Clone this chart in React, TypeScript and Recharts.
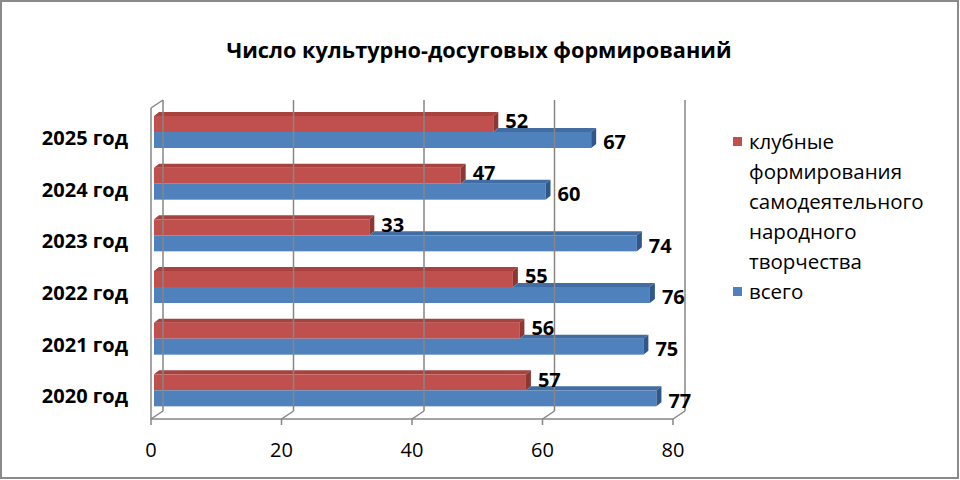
import { Bar, BarChart, LabelList, XAxis, YAxis } from "recharts";

// Chart values, top row first (as drawn)
const years = ["2025 год", "2024 год", "2023 год", "2022 год", "2021 год", "2020 год"];
const clubValues = [52, 47, 33, 55, 56, 57];
const totalValues = [67, 60, 74, 76, 75, 77];
const xTicks = [0, 20, 40, 60, 80];

const title = "Число культурно-досуговых формирований";
const clubName = "клубные формирования самодеятельного народного творчества";
const totalName = "всего";

const FONT = "'Open Sans', 'Noto Sans', sans-serif";
const GRID = "#868686";

// 3D look: side faces shifted right/up
const DEPTH_X = 5;
const DEPTH_Y = 4;

const RED = { front: "#C0504D", top: "#A8423F", side: "#8C3734" };
const BLUE = { front: "#4F81BD", top: "#416DA3", side: "#31578A" };

const data = years.map((year, i) => ({
  year,
  club: clubValues[i],
  total: totalValues[i],
}));

function box(x: number, y: number, w: number, h: number, c: typeof RED, topFrom = 0) {
  const r = x + w;
  return (
    <g>
      <rect x={x} y={y} width={w} height={h} fill={c.front} />
      {topFrom < w && (
        <polygon
          points={`${x + topFrom},${y} ${r},${y} ${r + DEPTH_X},${y - DEPTH_Y} ${x + topFrom + DEPTH_X},${y - DEPTH_Y}`}
          fill={c.top}
        />
      )}
      <polygon
        points={`${r},${y} ${r + DEPTH_X},${y - DEPTH_Y} ${r + DEPTH_X},${y + h - DEPTH_Y} ${r},${y + h}`}
        fill={c.side}
      />
    </g>
  );
}

function ClubShape(props: any) {
  const { x, y, width, height } = props;
  return box(x, y, width, height, RED);
}

// the club bar sits in front of the "total" bar's top face, so only the
// part past the club bar end is shown
function TotalShape(props: any) {
  const { x, y, width, height, payload } = props;
  const clubW = (width * payload.club) / payload.total;
  return box(x, y, width, height, BLUE, Math.max(0, clubW));
}

function valueLabel(shift: number) {
  return (props: any) => {
    const { x, y, width, height, value } = props;
    return (
      <text
        x={x + width + 12}
        y={y + height / 2 + shift}
        dy="0.36em"
        fontFamily={FONT}
        fontSize={20}
        fontWeight={700}
        fill="#000"
      >
        {value}
      </text>
    );
  };
}

// back-wall grid line, floor diagonal, tick and label for each value tick
function FloorTick(props: any) {
  const { x, y, payload, index, width } = props;
  const back = x + 9;
  const front = x - 3;
  return (
    <g>
      <line x1={back} y1={y - 316} x2={back} y2={y - 5} stroke={GRID} strokeWidth={1.5} />
      <line x1={back} y1={y - 5} x2={front} y2={y + 3} stroke={GRID} strokeWidth={1.5} />
      <line x1={front} y1={y + 3} x2={front} y2={y + 9} stroke={GRID} strokeWidth={1.5} />
      {index === 0 && (
        <g>
          <line x1={front} y1={y - 308} x2={front} y2={y + 3} stroke={GRID} strokeWidth={1.5} />
          <line x1={front} y1={y - 308} x2={back} y2={y - 316} stroke={GRID} strokeWidth={1.5} />
          {typeof width === "number" && (
            <line x1={front} y1={y + 3} x2={front + width} y2={y + 3} stroke={GRID} strokeWidth={1.5} />
          )}
        </g>
      )}
      <text
        x={front}
        y={y + 41}
        textAnchor="middle"
        fontFamily={FONT}
        fontSize={20}
        fill="#000"
      >
        {payload.value}
      </text>
    </g>
  );
}

function YearTick(props: any) {
  const { x, y, payload } = props;
  return (
    <text
      x={x}
      y={y + 6}
      dy="0.36em"
      textAnchor="end"
      fontFamily={FONT}
      fontSize={20}
      fontWeight={700}
      fill="#000"
    >
      {payload.value}
    </text>
  );
}

function LegendItem({ color, label }: { color: string; label: string }) {
  return (
    <div style={{ display: "flex", alignItems: "flex-start" }}>
      <div
        style={{ width: 9, height: 9, background: color, marginTop: 11, marginRight: 7, flex: "none" }}
      />
      <div style={{ width: 196 }}>{label}</div>
    </div>
  );
}

export default function App() {
  return (
    <div style={{ position: "absolute", left: 0, top: 0, width: 960, height: 480, background: "#fff" }}>
      <div
        style={{
          position: "absolute",
          left: 0,
          top: 0,
          width: 959,
          height: 479,
          boxSizing: "border-box",
          border: "2px solid #8a8a8a",
        }}
      />
      <div
        style={{
          position: "absolute",
          left: 0,
          top: 35,
          width: 958,
          textAlign: "center",
          fontFamily: FONT,
          fontSize: 21.7,
          fontWeight: 700,
          color: "#000",
        }}
      >
        {title}
      </div>
      <div style={{ position: "absolute", left: 0, top: 0 }}>
        <BarChart
          width={960}
          height={480}
          data={data}
          layout="vertical"
          margin={{ top: 106, right: 284, bottom: 34, left: 0 }}
          barSize={16}
          barGap={0}
        >
          <XAxis
            type="number"
            domain={[0, 80]}
            ticks={xTicks}
            height={30}
            axisLine={false}
            tickLine={false}
            tickSize={0}
            tickMargin={0}
            tick={<FloorTick />}
          />
          <YAxis
            type="category"
            dataKey="year"
            width={154}
            axisLine={false}
            tickLine={false}
            tickSize={0}
            tickMargin={26}
            tick={<YearTick />}
          />
          <Bar dataKey="club" name={clubName} shape={<ClubShape />} isAnimationActive={false}>
            <LabelList dataKey="club" content={valueLabel(-3)} />
          </Bar>
          <Bar dataKey="total" name={totalName} shape={<TotalShape />} isAnimationActive={false}>
            <LabelList dataKey="total" content={valueLabel(2)} />
          </Bar>
        </BarChart>
      </div>
      <div
        style={{
          position: "absolute",
          left: 733,
          top: 126,
          fontFamily: FONT,
          fontSize: 20.5,
          lineHeight: "30px",
          color: "#000",
        }}
      >
        <LegendItem color={RED.front} label={clubName} />
        <LegendItem color={BLUE.front} label={totalName} />
      </div>
    </div>
  );
}
